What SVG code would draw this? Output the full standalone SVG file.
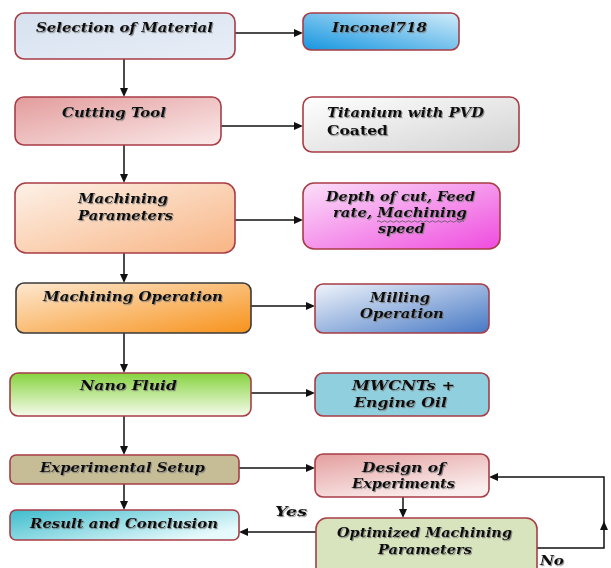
<svg xmlns="http://www.w3.org/2000/svg" width="611" height="568" viewBox="0 0 611 568">
<style>
.box{stroke:#a83d46;stroke-width:1.6}
.dark{stroke:#3a3a3a}
.t{font-family:"DejaVu Serif","Liberation Serif",serif;font-weight:bold;font-style:italic;font-size:13.5px;fill:#111;text-anchor:start;filter:url(#sh)}
.up{font-style:normal}
.ln{stroke:#111;stroke-width:1.5;fill:none}
.ah{fill:#111}
</style>
<defs>
<filter id="sh" x="-10%" y="-30%" width="120%" height="160%">
<feDropShadow dx="1" dy="1.2" stdDeviation="0.7" flood-color="#777" flood-opacity="0.8"/>
</filter>
<linearGradient id="gSel" x1="0" y1="0" x2="1" y2="1"><stop offset="0" stop-color="#d6e1ef"/><stop offset="1" stop-color="#e8eef7"/></linearGradient>
<linearGradient id="gInc" x1="0" y1="1" x2="1" y2="0"><stop offset="0" stop-color="#1696e0"/><stop offset="1" stop-color="#d2ecf9"/></linearGradient>
<linearGradient id="gCut" x1="0" y1="0" x2="1" y2="1"><stop offset="0" stop-color="#e39c9c"/><stop offset="1" stop-color="#fbeaea"/></linearGradient>
<linearGradient id="gTi" x1="0" y1="0" x2="1" y2="1"><stop offset="0" stop-color="#ffffff"/><stop offset="1" stop-color="#d2d2d2"/></linearGradient>
<linearGradient id="gMP" x1="0" y1="0" x2="1" y2="1"><stop offset="0" stop-color="#fdf1e8"/><stop offset="1" stop-color="#f8b584"/></linearGradient>
<linearGradient id="gDep" x1="0" y1="0" x2="1" y2="1"><stop offset="0" stop-color="#fbe0f9"/><stop offset="1" stop-color="#ef4cdf"/></linearGradient>
<linearGradient id="gMO" x1="0" y1="0" x2="1" y2="1"><stop offset="0" stop-color="#fde8d0"/><stop offset="1" stop-color="#f7921b"/></linearGradient>
<linearGradient id="gMil" x1="0" y1="0" x2="1" y2="1"><stop offset="0" stop-color="#f0f4fb"/><stop offset="1" stop-color="#4678c4"/></linearGradient>
<linearGradient id="gNano" x1="0" y1="0" x2="0" y2="1"><stop offset="0" stop-color="#86d33f"/><stop offset="1" stop-color="#f6fbec"/></linearGradient>
<linearGradient id="gDoE" x1="0" y1="0" x2="0.6" y2="1"><stop offset="0" stop-color="#e49e9e"/><stop offset="1" stop-color="#fbeeee"/></linearGradient>
<linearGradient id="gRes" x1="0" y1="0" x2="1" y2="0.6"><stop offset="0" stop-color="#3ebdcd"/><stop offset="1" stop-color="#e6f9fb"/></linearGradient>
</defs>
<rect width="611" height="568" fill="#ffffff"/>

<g id="connectors">
<path class="ln" d="M235 33H295"/><polygon class="ah" points="303,33 294,29 294,37"/>
<path class="ln" d="M221 126H295"/><polygon class="ah" points="303,126 294,122 294,130"/>
<path class="ln" d="M235 220H295"/><polygon class="ah" points="303,220 294,216 294,224"/>
<path class="ln" d="M251 306H307"/><polygon class="ah" points="315,306 306,302 306,310"/>
<path class="ln" d="M251 393H307"/><polygon class="ah" points="315,393 306,389 306,397"/>
<path class="ln" d="M239 468H307"/><polygon class="ah" points="315,468 306,464 306,472"/>
<path class="ln" d="M124 59V89"/><polygon class="ah" points="124,97 120,88 128,88"/>
<path class="ln" d="M124 145V175"/><polygon class="ah" points="124,183 120,174 128,174"/>
<path class="ln" d="M124 253V275"/><polygon class="ah" points="124,283 120,274 128,274"/>
<path class="ln" d="M124 333V365"/><polygon class="ah" points="124,373 120,364 128,364"/>
<path class="ln" d="M124 416V447"/><polygon class="ah" points="124,455 120,446 128,446"/>
<path class="ln" d="M124 484V502"/><polygon class="ah" points="124,510 120,501 128,501"/>
<path class="ln" d="M403 497V510"/><polygon class="ah" points="403,518 399,509 407,509"/>
<path class="ln" d="M316 532H247"/><polygon class="ah" points="239,532 248,528 248,536"/>
<path class="ln" d="M537 548H604V477H497"/><polygon class="ah" points="489,477 498,473 498,481"/>
<polygon class="ah" points="604,521 600,530 608,530"/>
</g>

<g id="n1"><rect class="box" x="15" y="13" width="220" height="46" rx="9" fill="url(#gSel)"/>
<text class="t" x="36" y="32" textLength="177" lengthAdjust="spacingAndGlyphs">Selection of Material</text></g>
<g id="n2"><rect class="box" x="303" y="13" width="156" height="37" rx="8" fill="url(#gInc)"/>
<text class="t" x="332" y="32" textLength="95" lengthAdjust="spacingAndGlyphs">Inconel718</text></g>
<g id="n3"><rect class="box" x="15" y="97" width="206" height="48" rx="9" fill="url(#gCut)"/>
<text class="t" x="62" y="117" textLength="104" lengthAdjust="spacingAndGlyphs">Cutting Tool</text></g>
<g id="n4"><rect class="box" x="303" y="97" width="216" height="55" rx="9" fill="url(#gTi)"/>
<text class="t" x="327" y="117" textLength="157" lengthAdjust="spacingAndGlyphs">Titanium with PVD</text>
<text class="t up" x="327" y="135" textLength="61" lengthAdjust="spacingAndGlyphs">Coated</text></g>
<g id="n5"><rect class="box" x="15" y="183" width="220" height="70" rx="11" fill="url(#gMP)"/>
<text class="t" x="78" y="203" textLength="90" lengthAdjust="spacingAndGlyphs">Machining</text>
<text class="t" x="78" y="220" textLength="95" lengthAdjust="spacingAndGlyphs">Parameters</text></g>
<g id="n6"><rect class="box" x="303" y="183" width="197" height="66" rx="11" fill="url(#gDep)"/>
<text class="t" x="326" y="201" textLength="149" lengthAdjust="spacingAndGlyphs">Depth of cut, Feed</text>
<text class="t" x="333" y="217" textLength="134" lengthAdjust="spacingAndGlyphs">rate, Machining</text>
<path d="M377 221.5q1.5-1.5 3 0t3 0t3 0t3 0t3 0t3 0t3 0t3 0t3 0t3 0t3 0t3 0t3 0t3 0t3 0t3 0t3 0t3 0t3 0t3 0t3 0t3 0t3 0t3 0t3 0t3 0t3 0t3 0t3 0" fill="none" stroke="#555" stroke-width="0.8"/>
<text class="t" x="378" y="233" textLength="47" lengthAdjust="spacingAndGlyphs">speed</text></g>
<g id="n7"><rect class="box dark" x="16" y="283" width="235" height="50" rx="8" fill="url(#gMO)"/>
<text class="t" x="43" y="301" textLength="180" lengthAdjust="spacingAndGlyphs">Machining Operation</text></g>
<g id="n8"><rect class="box" x="315" y="284" width="174" height="49" rx="8" fill="url(#gMil)"/>
<text class="t" x="370" y="302" textLength="60" lengthAdjust="spacingAndGlyphs">Milling</text>
<text class="t" x="360" y="318" textLength="84" lengthAdjust="spacingAndGlyphs">Operation</text></g>
<g id="n9"><rect class="box" x="10" y="373" width="241" height="43" rx="8" fill="url(#gNano)"/>
<text class="t" x="80" y="390" textLength="97" lengthAdjust="spacingAndGlyphs">Nano Fluid</text></g>
<g id="n10"><rect class="box" x="315" y="373" width="174" height="43" rx="8" fill="#90cfdd"/>
<text class="t" x="352" y="390" textLength="103" lengthAdjust="spacingAndGlyphs">MWCNTs +</text>
<text class="t" x="354" y="407" textLength="93" lengthAdjust="spacingAndGlyphs">Engine Oil</text></g>
<g id="n11"><rect class="box" x="10" y="455" width="229" height="29" rx="6" fill="#c6bc96"/>
<text class="t" x="40" y="472" textLength="165" lengthAdjust="spacingAndGlyphs">Experimental Setup</text></g>
<g id="n12"><rect class="box" x="315" y="454" width="174" height="43" rx="8" fill="url(#gDoE)"/>
<text class="t" x="362" y="472" textLength="83" lengthAdjust="spacingAndGlyphs">Design of</text>
<text class="t" x="352" y="488" textLength="103" lengthAdjust="spacingAndGlyphs">Experiments</text></g>
<g id="n13"><rect class="box" x="10" y="510" width="229" height="30" rx="6" fill="url(#gRes)"/>
<text class="t" x="30" y="528" textLength="188" lengthAdjust="spacingAndGlyphs">Result and Conclusion</text></g>
<g id="n14"><rect class="box" x="316" y="518" width="221" height="62" rx="11" fill="#d8e4bd"/>
<text class="t" x="337" y="537" textLength="175" lengthAdjust="spacingAndGlyphs">Optimized Machining</text>
<text class="t" x="378" y="554" textLength="94" lengthAdjust="spacingAndGlyphs">Parameters</text></g>

<g id="labels">
<text class="t" x="275" y="516" textLength="32" lengthAdjust="spacingAndGlyphs">Yes</text>
<text class="t" x="540" y="565" textLength="24" lengthAdjust="spacingAndGlyphs">No</text>
</g>
</svg>
